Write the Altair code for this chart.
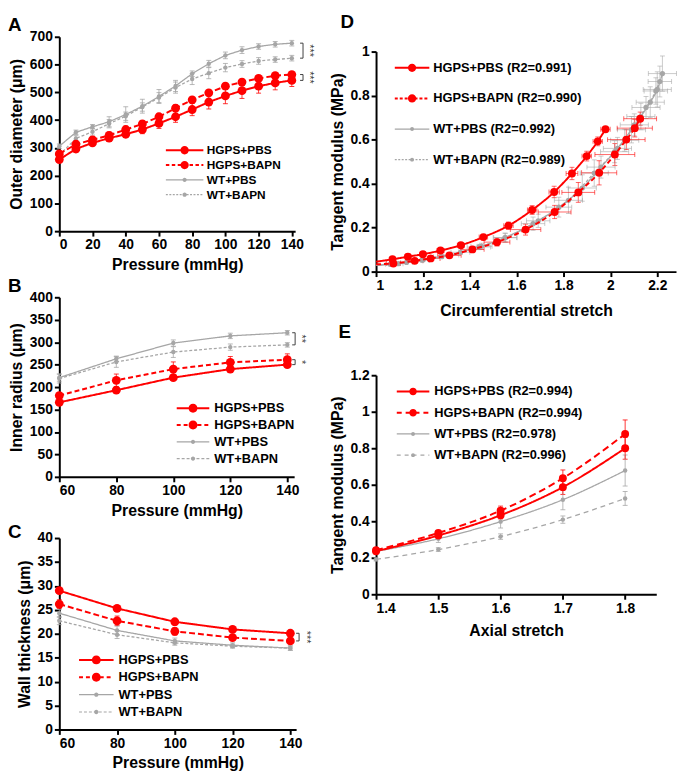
import altair as alt
import pandas as pd

FONT = "Liberation Sans"
SERIES = ["HGPS+PBS", "HGPS+BAPN", "WT+PBS", "WT+BAPN"]
HGPS = ["HGPS+PBS", "HGPS+BAPN"]
WT = ["WT+PBS", "WT+BAPN"]
DRAW_ORDER = ["WT+BAPN", "WT+PBS", "HGPS+BAPN", "HGPS+PBS"]
COLORS = ["#ff0000", "#ff0000", "#a6a6a6", "#a6a6a6"]

# ---------------- Panel A : outer diameter ----------------
A_P = [0, 10, 20, 30, 40, 50, 60, 70, 80, 90, 100, 110, 120, 130, 140]
A_HGPS_PBS = [258, 296, 318, 335, 349, 366, 388, 412, 438, 465, 487, 506, 522, 534, 543]
A_HGPS_BAPN = [278, 313, 329, 345, 366, 386, 412, 443, 473, 498, 522, 537, 550, 560, 564]
A_WT_PBS = [306, 356, 376, 394, 420, 450, 485, 523, 567, 603, 633, 652, 665, 673, 677]
A_WT_BAPN = [274, 334, 358, 387, 414, 447, 481, 517, 548, 569, 589, 602, 613, 618, 623]
A_HGPS_PBS_SE = [10, 12, 10, 12, 12, 15, 18, 20, 22, 25, 28, 28, 25, 25, 22]
A_HGPS_BAPN_SE = [10, 12, 12, 12, 12, 12, 12, 12, 10, 10, 10, 10, 10, 10, 10]
A_WT_PBS_SE = [8, 8, 8, 18, 28, 25, 25, 20, 10, 12, 12, 12, 10, 10, 10]
A_WT_BAPN_SE = [8, 10, 12, 15, 15, 15, 18, 20, 20, 20, 15, 12, 12, 10, 10]

# ---------------- Panel B : inner radius ----------------
BC_P = [60, 80, 100, 120, 140]
B_HGPS_PBS = [166, 193, 221, 240, 250]
B_HGPS_BAPN = [181, 215, 240, 255, 261]
B_WT_PBS = [221, 263, 298, 314, 321]
B_WT_BAPN = [219, 256, 278, 289, 294]
B_HGPS_PBS_SE = [5, 5, 6, 6, 6]
B_HGPS_BAPN_SE = [6, 14, 16, 13, 13]
B_WT_PBS_SE = [8, 6, 7, 6, 5]
B_WT_BAPN_SE = [10, 12, 12, 7, 5]

# ---------------- Panel C : wall thickness ----------------
C_HGPS_PBS = [29.0, 25.3, 22.5, 20.9, 20.1]
C_HGPS_BAPN = [26.2, 22.7, 20.5, 19.2, 18.5]
C_WT_PBS = [24.3, 20.7, 18.5, 17.6, 17.0]
C_WT_BAPN = [22.7, 19.8, 18.1, 17.4, 17.0]
C_HGPS_PBS_SE = [0.5, 0.6, 0.5, 0.4, 0.4]
C_HGPS_BAPN_SE = [0.9, 1.0, 0.8, 0.6, 0.5]
C_WT_PBS_SE = [0.8, 0.9, 0.6, 0.5, 0.5]
C_WT_BAPN_SE = [0.8, 0.8, 0.5, 0.4, 0.4]

# ---------------- Panel D : circumferential tangent modulus ----------------
D_HP_X = [1.070, 1.136, 1.200, 1.275, 1.362, 1.458, 1.565, 1.666, 1.760, 1.836, 1.899, 1.946, 1.979]
D_HP_Y = [0.056, 0.068, 0.079, 0.096, 0.120, 0.157, 0.209, 0.280, 0.362, 0.446, 0.525, 0.592, 0.647]
D_HP_XE = [0.010, 0.012, 0.012, 0.015, 0.015, 0.018, 0.020, 0.020, 0.022, 0.025, 0.020, 0.020, 0.020]
D_HP_YE = [0.004, 0.005, 0.006, 0.008, 0.010, 0.012, 0.016, 0.020, 0.026, 0.028, 0.022, 0.020, 0.012]
D_HB_X = [1.074, 1.165, 1.233, 1.313, 1.411, 1.516, 1.638, 1.762, 1.863, 1.952, 2.019, 2.068, 2.104, 2.127]
D_HB_Y = [0.037, 0.049, 0.060, 0.074, 0.101, 0.134, 0.191, 0.271, 0.360, 0.449, 0.532, 0.600, 0.652, 0.695]
D_HB_XE = [0.030, 0.035, 0.040, 0.050, 0.050, 0.055, 0.065, 0.070, 0.070, 0.075, 0.085, 0.080, 0.075, 0.070]
D_HB_YE = [0.005, 0.006, 0.008, 0.010, 0.012, 0.018, 0.025, 0.030, 0.045, 0.055, 0.050, 0.045, 0.040, 0.030]
D_WP_X = [1.060, 1.130, 1.200, 1.280, 1.360, 1.450, 1.550, 1.670, 1.780, 1.880, 1.960, 2.030, 2.090, 2.130, 2.170, 2.200, 2.222]
D_WP_Y = [0.033, 0.042, 0.053, 0.068, 0.088, 0.115, 0.155, 0.218, 0.293, 0.380, 0.475, 0.560, 0.645, 0.705, 0.770, 0.828, 0.900]
D_WP_XE = [0.02, 0.025, 0.03, 0.035, 0.04, 0.045, 0.05, 0.05, 0.055, 0.06, 0.06, 0.06, 0.06, 0.06, 0.06, 0.06, 0.06]
D_WP_YE = [0.004, 0.005, 0.006, 0.008, 0.010, 0.014, 0.020, 0.030, 0.045, 0.060, 0.050, 0.050, 0.060, 0.060, 0.070, 0.080, 0.080]
D_WB_X = [1.095, 1.196, 1.313, 1.439, 1.552, 1.692, 1.821, 1.931, 2.018, 2.061, 2.102, 2.152, 2.194, 2.211]
D_WB_Y = [0.036, 0.052, 0.075, 0.112, 0.154, 0.231, 0.324, 0.448, 0.545, 0.597, 0.667, 0.746, 0.821, 0.864]
D_WB_XE = [0.02, 0.03, 0.04, 0.05, 0.05, 0.05, 0.06, 0.06, 0.06, 0.06, 0.06, 0.06, 0.05, 0.05]
D_WB_YE = [0.004, 0.006, 0.008, 0.012, 0.020, 0.030, 0.060, 0.060, 0.050, 0.050, 0.050, 0.050, 0.060, 0.070]
# where each fitted curve meets stretch = 1
D_FIT_START_X = 1.0
D_FIT_START_Y = [0.045, 0.033, 0.028, 0.030]
D_LABELS = ["HGPS+PBS (R2=0.991)", "HGPS+BAPN (R2=0.990)", "WT+PBS (R2=0.992)", "WT+BAPN (R2=0.989)"]

# ---------------- Panel E : axial tangent modulus ----------------
E_X = [1.4, 1.5, 1.6, 1.7, 1.8]
E_HP = [0.236, 0.322, 0.433, 0.587, 0.800]
E_HB = [0.242, 0.336, 0.458, 0.636, 0.878]
E_WP = [0.235, 0.304, 0.398, 0.518, 0.678]
E_WB = [0.191, 0.245, 0.316, 0.409, 0.525]
E_HP_SE = [0.010, 0.012, 0.020, 0.040, 0.060]
E_HB_SE = [0.010, 0.012, 0.025, 0.045, 0.077]
E_WP_SE = [0.010, 0.020, 0.035, 0.055, 0.085]
E_WB_SE = [0.008, 0.010, 0.015, 0.020, 0.038]
E_LABELS = ["HGPS+PBS (R2=0.994)", "HGPS+BAPN (R2=0.994)", "WT+PBS (R2=0.978)", "WT+BAPN (R2=0.996)"]


def build_df(xs_list, ys_list, es_list, xes_list=None):
    rows = []
    for name in DRAW_ORDER:
        i = SERIES.index(name)
        xs, ys, es = xs_list[i], ys_list[i], es_list[i]
        for j in range(len(ys)):
            r = {"g": name, "x": xs[j], "y": ys[j], "lo": ys[j] - es[j], "hi": ys[j] + es[j]}
            if xes_list is not None:
                r["xlo"] = xs[j] - xes_list[i][j]
                r["xhi"] = xs[j] + xes_list[i][j]
            rows.append(r)
    return pd.DataFrame(rows)


def sym_path(S, L, dash, r, t):
    """Legend glyph drawn as filled geometry: line (solid or dashed) + dot."""
    x0, x1 = -S, L - S
    h = t / 2
    parts = []
    segs = []
    if dash is None:
        segs.append((x0, x1))
    else:
        d, gp = dash
        s = x0
        while s < x1 - 0.5:
            segs.append((s, min(s + d, x1)))
            s += d + gp
    for a, b in segs:
        parts.append(f"M{a:.1f},{-h:.2f}H{b:.1f}V{h:.2f}H{a:.1f}Z")
    cx = (x0 + x1) / 2
    parts.append(f"M{cx - r:.1f},0A{r},{r} 0 1 1 {cx + r:.1f},0A{r},{r} 0 1 1 {cx - r:.1f},0Z")
    return "".join(parts)


def make_legend(lx, ly, L, gap, fs, rowpad, rb, rs, ldash, labels=None):
    S = fs / 2.0
    paths = [sym_path(S, L, None, rb, 2.0), sym_path(S, L, ldash[0], rb, 2.0),
             sym_path(S, L, None, rs, 1.2), sym_path(S, L, ldash[1], rs, 1.2)]
    shape_expr = (f"datum.value === '{SERIES[0]}' ? '{paths[0]}' : "
                  f"datum.value === '{SERIES[1]}' ? '{paths[1]}' : "
                  f"datum.value === '{SERIES[2]}' ? '{paths[2]}' : '{paths[3]}'")
    col_expr = "datum.value === 'WT+PBS' || datum.value === 'WT+BAPN' ? '#a6a6a6' : '#ff0000'"
    kw = {}
    if labels is not None:
        lab = " : ".join(f"datum.value === '{s}' ? '{t}'" for s, t in zip(SERIES[:3], labels[:3]))
        kw["labelExpr"] = lab + f" : '{labels[3]}'"
    return alt.Legend(
        title=None, orient="none", legendX=lx, legendY=ly, padding=0,
        labelFont=FONT, labelFontSize=fs, labelFontWeight="bold", labelColor="black",
        labelLimit=400, symbolSize=4, symbolStrokeWidth=0, labelOffset=L + gap - fs,
        rowPadding=rowpad, symbolType={"expr": shape_expr},
        symbolFillColor={"expr": col_expr}, symbolStrokeColor="transparent",
        symbolOpacity=1,
        **kw,
    )


def letter_title(letter, ldx, loff):
    return alt.TitleParams(letter, anchor="start", frame="group", dx=ldx, offset=loff,
                           fontSize=19, font=FONT, fontWeight="bold", color="black")


def make_panel(df, line_df, W, H, xdom, xvals, ydom, yvals, xtitle, ytitle, legend,
               dashes, big, small, interp, letter, ldx, loff, eb_op, fmt=None, xerr=False,
               brackets=None, bx=0, tx=0, xtpad=5):
    xsc = alt.Scale(domain=xdom, nice=False, zero=False)
    ysc = alt.Scale(domain=ydom, nice=False, zero=False)
    akw = {"format": fmt} if fmt else {}
    xax = alt.Axis(values=xvals, title=xtitle, titlePadding=xtpad, **akw)
    yax = alt.Axis(values=yvals, title=ytitle, titlePadding=5, **akw)

    def X(f):
        return alt.X(f, type="quantitative", scale=xsc, axis=xax)

    def Y(f):
        return alt.Y(f, type="quantitative", scale=ysc, axis=yax)

    col = alt.Color("g:N", scale=alt.Scale(domain=SERIES, range=COLORS), legend=legend)
    dash = alt.StrokeDash("g:N", scale=alt.Scale(domain=SERIES, range=dashes), legend=None)
    layers = [alt.Chart(df).mark_errorbar(ticks=True, size=5, thickness=1, opacity=eb_op)
              .encode(x=X("x"), y=Y("lo"), y2=alt.Y2("hi"), color=col)]
    if xerr:
        layers.append(alt.Chart(df).mark_errorbar(ticks=True, size=5, thickness=1, opacity=eb_op)
                      .encode(x=X("xlo"), x2=alt.X2("xhi"), y=Y("y"), color=col))
    for grp, sw, sz in ((WT, 1.3, small), (HGPS, 2, big)):
        flt = alt.FieldOneOfPredicate(field="g", oneOf=grp)
        layers.append(alt.Chart(line_df).transform_filter(flt)
                      .mark_line(strokeWidth=sw, interpolate=interp)
                      .encode(x=X("x"), y=Y("y"), color=col, strokeDash=dash))
        layers.append(alt.Chart(df).transform_filter(flt)
                      .mark_point(filled=True, size=sz, opacity=1)
                      .encode(x=X("x"), y=Y("y"), color=col))
    if brackets is not None:
        bdf = pd.DataFrame(brackets)
        bcol = "#404040"
        layers.append(alt.Chart(bdf).mark_rule(color=bcol, strokeWidth=1)
                      .encode(x=alt.value(W + bx), y=Y("y1"), y2=alt.Y2("y2")))
        for f in ("y1", "y2"):
            layers.append(alt.Chart(bdf).mark_rule(color=bcol, strokeWidth=1)
                          .encode(x=alt.value(W + bx - 3), x2=alt.value(W + bx), y=Y(f)))
        layers.append(alt.Chart(bdf).mark_text(angle=90, fontSize=11, font=FONT, color=bcol,
                                               baseline="middle", align="center")
                      .encode(x=alt.value(W + tx), y=Y("ym"), text="t:N"))
    props = {"width": W, "height": H}
    if letter:
        props["title"] = letter_title(letter, ldx, loff)
    return alt.layer(*layers).properties(**props)


def bracket(a, b, t):
    return {"y1": a, "y2": b, "ym": (a + b) / 2, "t": t}


# ---- data tables
dfA = build_df([A_P] * 4, [A_HGPS_PBS, A_HGPS_BAPN, A_WT_PBS, A_WT_BAPN],
               [A_HGPS_PBS_SE, A_HGPS_BAPN_SE, A_WT_PBS_SE, A_WT_BAPN_SE])
dfB = build_df([BC_P] * 4, [B_HGPS_PBS, B_HGPS_BAPN, B_WT_PBS, B_WT_BAPN],
               [B_HGPS_PBS_SE, B_HGPS_BAPN_SE, B_WT_PBS_SE, B_WT_BAPN_SE])
dfC = build_df([BC_P] * 4, [C_HGPS_PBS, C_HGPS_BAPN, C_WT_PBS, C_WT_BAPN],
               [C_HGPS_PBS_SE, C_HGPS_BAPN_SE, C_WT_PBS_SE, C_WT_BAPN_SE])
D_XS = [D_HP_X, D_HB_X, D_WP_X, D_WB_X]
D_YS = [D_HP_Y, D_HB_Y, D_WP_Y, D_WB_Y]
dfD = build_df(D_XS, D_YS, [D_HP_YE, D_HB_YE, D_WP_YE, D_WB_YE],
               [D_HP_XE, D_HB_XE, D_WP_XE, D_WB_XE])
fitD = pd.concat([dfD[["g", "x", "y"]],
                  pd.DataFrame({"g": SERIES, "x": [D_FIT_START_X] * 4, "y": D_FIT_START_Y})],
                 ignore_index=True)
dfE = build_df([E_X] * 4, [E_HP, E_HB, E_WP, E_WB], [E_HP_SE, E_HB_SE, E_WP_SE, E_WB_SE])

LEFT_LDX = -52

pA = make_panel(
    dfA, dfA, 239, 197, [0, 142], A_P[::2], [0, 700], list(range(0, 701, 100)),
    "Pressure (mmHg)", "Outer diameter (μm)",
    make_legend(108, 109, 38, 3.5, 12, 3, 4.2, 2.2, [(3.5, 2.5), (2, 1.5)]),
    [[1, 0], [6, 3], [1, 0], [3, 2]], 80, 20, "linear", "A", LEFT_LDX, -5, 0.8,
    brackets=[bracket(A_WT_PBS[-1], A_WT_BAPN[-1], "***"),
              bracket(A_HGPS_BAPN[-1], A_HGPS_PBS[-1], "***")], bx=8, tx=14)

pB = make_panel(
    dfB, dfB, 238, 182, [60, 142.4], BC_P, [0, 400], list(range(0, 401, 50)),
    "Pressure (mmHg)", "Inner radius (μm)",
    make_legend(119, 106, 33, 5, 13, 3, 4.5, 2.2, [(4, 3), (3, 2)]),
    [[1, 0], [5, 3], [1, 0], [3, 2]], 80, 20, "linear", "B", LEFT_LDX, -6, 0.8,
    brackets=[bracket(B_WT_PBS[-1], B_WT_BAPN[-1], "**"),
              bracket(B_HGPS_BAPN[-1], B_HGPS_PBS[-1], "*")], bx=1, tx=7)

pC = make_panel(
    dfC, dfC, 240, 194, [60, 142], BC_P, [0, 40], list(range(0, 41, 5)),
    "Pressure (mmHg)", "Wall thickness (μm)",
    make_legend(20, 117, 35, 5, 13, 3.6, 4.5, 2.2, [(4, 3), (3, 2)]),
    [[1, 0], [6, 3], [1, 0], [3, 2]], 80, 20, "linear", "C", LEFT_LDX, -11, 0.8,
    brackets=[bracket(C_HGPS_PBS[-1], C_HGPS_BAPN[-1], "***")], bx=3, tx=10)

pD = make_panel(
    dfD, fitD, 304, 223, [1, 2.28], [1, 1.2, 1.4, 1.6, 1.8, 2, 2.2], [0, 1],
    [0, 0.2, 0.4, 0.6, 0.8, 1], "Circumferential stretch", "Tangent modulus (MPa)",
    make_legend(19, 10, 35, 4, 13, 17, 4.2, 2.0, [(3, 2), (2, 1.5)], D_LABELS),
    [[1, 0], [5, 3], [1, 0], [3, 2]], 64, 28, "monotone", None, 0, 0, 0.6,
    fmt="~f", xerr=True, xtpad=10)

pE = make_panel(
    dfE, dfE, 284, 222, [1.4, 1.85], E_X, [0, 1.2], [0, 0.2, 0.4, 0.6, 0.8, 1, 1.2],
    "Axial stretch", "Tangent modulus (MPa)",
    make_legend(21, 10, 33, 5, 13, 7.5, 3.8, 2.0, [(5, 4), (4, 4)], E_LABELS),
    [[1, 0], [7, 4], [1, 0], [5, 4]], 64, 20, "monotone", "E", -38, 27, 0.8, fmt="~f",
    xtpad=8)

# empty 1-px view that carries the "D" panel letter at the top of the right column
headD = alt.Chart(pd.DataFrame({"s": [0]})).mark_point(opacity=0).encode(
    x=alt.value(0), y=alt.value(0)
).properties(width=1, height=1, title=letter_title("D", -36, 2))


def indep(c):
    return c.resolve_scale(color="independent", strokeDash="independent").resolve_legend(
        color="independent", strokeDash="independent")


left = indep(alt.vconcat(pA, pB, pC, spacing=5))
right = indep(alt.vconcat(headD, pD, pE, spacing=5))

chart = indep(alt.hconcat(left, right, spacing=14)).properties(
    padding={"left": 0, "top": 0, "right": 0, "bottom": 0}
).configure_axis(
    domainColor="black", domainWidth=2, tickColor="black", tickWidth=2, tickSize=5,
    labelFont=FONT, labelFontSize=14, labelFontWeight="bold", labelColor="black",
    titleFont=FONT, titleFontSize=16, titleFontWeight="bold", titleColor="black",
    grid=False, labelPadding=2,
).configure_view(stroke=None)

chart.save("out.html", embed_options={"renderer": "svg", "actions": False})
